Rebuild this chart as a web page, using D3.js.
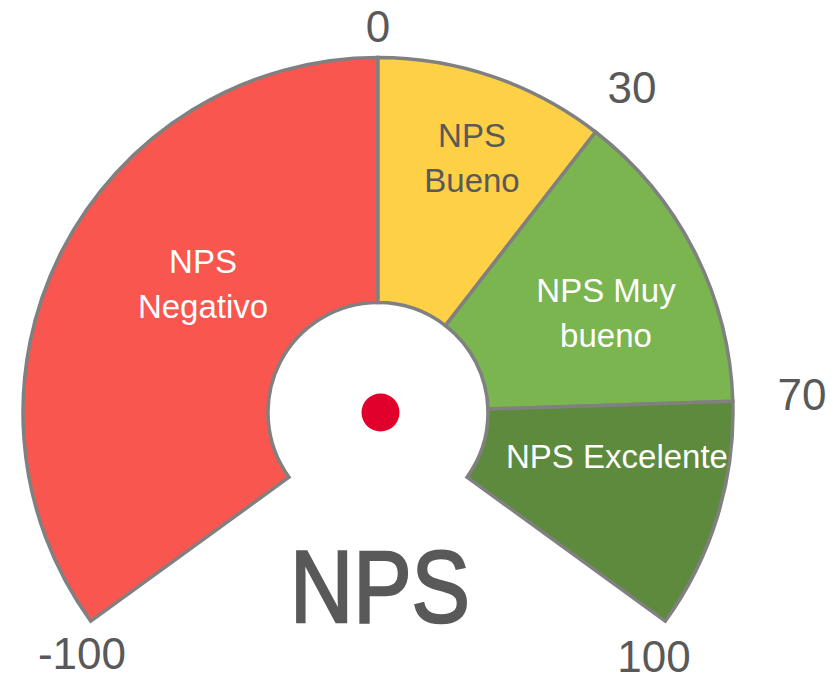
<!DOCTYPE html>
<html>
<head>
<meta charset="utf-8">
<script src="https://cdn.jsdelivr.net/npm/d3@7"></script>
<style>
  html, body { margin: 0; padding: 0; background: #fff; }
  #chart { width: 833px; height: 680px; }
  text { font-family: "Liberation Sans", Arial, sans-serif; }
</style>
</head>
<body>
<div id="chart"></div>
<script>
// NPS gauge bands
const bandStarts = [-100, 0, 30, 70];
const bandEnds = [0, 30, 70, 100];
const bandLabels = [["NPS", "Negativo"], ["NPS", "Bueno"], ["NPS Muy", "bueno"], ["NPS Excelente"]];
const bandColors = ["#f8564f", "#fed045", "#7ab550", "#5d8a3c"];
const labelColors = ["#fff", "#595959", "#fff", "#fff"];
const tickValues = [-100, 0, 30, 70, 100];
const title = "NPS";

const W = 833, H = 680;
const cx = 378, cy = 412.5;
const rOuter = 355, rInner = 110;

const svg = d3.select("#chart").append("svg")
  .attr("width", W).attr("height", H);

const g = svg.append("g").attr("transform", `translate(${cx},${cy})`);

// value -> angle (radians, clockwise from 12 o'clock)
const angle = d3.scaleLinear()
  .domain([-100, 100])
  .range([-126 * Math.PI / 180, 126 * Math.PI / 180]);

const arc = d3.arc().innerRadius(rInner).outerRadius(rOuter);

const bands = bandStarts.map((s, i) => ({
  start: s, end: bandEnds[i], label: bandLabels[i],
  color: bandColors[i], textColor: labelColors[i]
}));

g.selectAll("path.band")
  .data(bands)
  .join("path")
  .attr("class", "band")
  .attr("d", d => arc({ startAngle: angle(d.start), endAngle: angle(d.end) }))
  .attr("fill", d => d.color)
  .attr("stroke", "#808080")
  .attr("stroke-width", 3.5)
  .attr("stroke-linejoin", "miter");

// band label anchors, placed like the Excel data labels
const labelAnchors = [[203, 273], [472, 147], [606, 302], [617, 468]];

svg.selectAll("text.band-label")
  .data(bands)
  .join("text")
  .attr("class", "band-label")
  .attr("x", (d, i) => labelAnchors[i][0])
  .attr("y", (d, i) => labelAnchors[i][1])
  .attr("text-anchor", "middle")
  .attr("font-size", 33)
  .attr("fill", d => d.textColor)
  .each(function(d, i) {
    d3.select(this).selectAll("tspan")
      .data(d.label)
      .join("tspan")
      .attr("x", labelAnchors[i][0])
      .attr("dy", (t, j) => j === 0 ? 0 : 45)
      .text(t => t);
  });

// tick labels around the gauge
const tickPos = {
  "-100": [82, 669],
  "0": [378, 42],
  "30": [632, 103],
  "70": [802, 410],
  "100": [654, 672]
};
svg.selectAll("text.tick")
  .data(tickValues)
  .join("text")
  .attr("class", "tick")
  .attr("x", d => tickPos[d][0])
  .attr("y", d => tickPos[d][1])
  .attr("text-anchor", "middle")
  .attr("font-size", 44)
  .attr("fill", "#595959")
  .text(d => d);

// needle hub
g.append("circle")
  .attr("cx", 2.5).attr("cy", 0)
  .attr("r", 19)
  .attr("fill", "#e0002b");

// title
svg.append("text")
  .attr("x", 380).attr("y", 622)
  .attr("text-anchor", "middle")
  .attr("font-size", 102)
  .attr("textLength", 180)
  .attr("lengthAdjust", "spacingAndGlyphs")
  .attr("fill", "#595959")
  .attr("stroke", "#595959")
  .attr("stroke-width", 2.5)
  .text(title);
</script>
</body>
</html>
